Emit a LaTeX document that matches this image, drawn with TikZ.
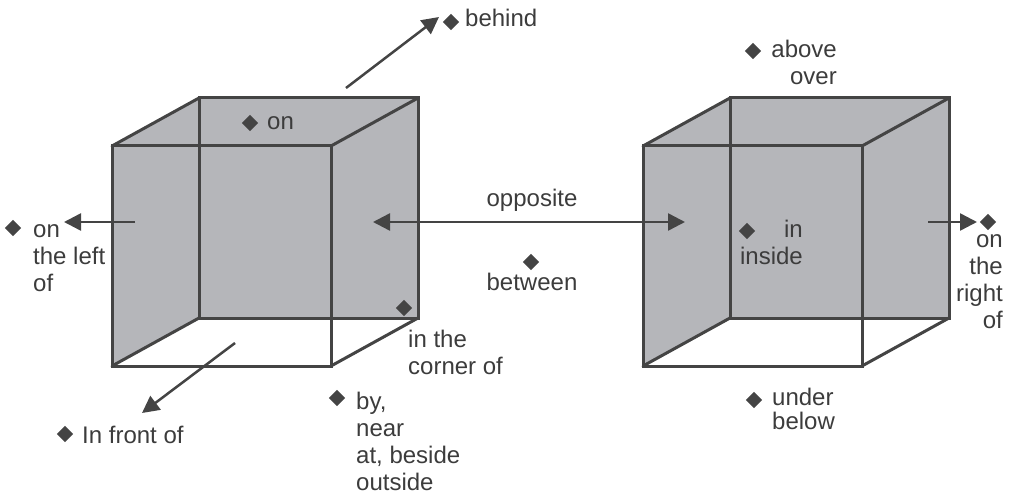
\documentclass[tikz,border=0pt]{standalone}
\usepackage{fontspec}
\setmainfont{Liberation Sans}
\usetikzlibrary{arrows.meta,shapes.geometric}
\definecolor{edgegray}{HTML}{444444}
\definecolor{boxgray}{HTML}{B5B6BA}
\definecolor{textgray}{HTML}{3C3C3C}
\tikzset{
  boxline/.style={draw=edgegray, line width=3pt, line cap=round},
  pointer/.style={draw=edgegray, line width=2.5pt, -{Triangle[length=17pt,width=17pt]}},
  bullet/.style={diamond, fill=edgegray, inner sep=0pt, minimum width=16.5pt, minimum height=16.5pt},
  word/.style={text=textgray, inner sep=0pt, font=\fontsize{24}{27}\selectfont},
}
\begin{document}
\begin{tikzpicture}[x=1pt, y=-1pt]
  \useasboundingbox (0,0) rectangle (1010,492);
  % two open boxes
  \foreach \c/\dx in {L/0, R/531}{
    \coordinate (\c-ftl) at (112+\dx,146);
    \coordinate (\c-ftr) at (331+\dx,146);
    \coordinate (\c-fbl) at (112+\dx,366);
    \coordinate (\c-fbr) at (331+\dx,366);
    \coordinate (\c-btl) at (199+\dx,98);
    \coordinate (\c-btr) at (418+\dx,98);
    \coordinate (\c-bbl) at (199+\dx,318);
    \coordinate (\c-bbr) at (418+\dx,318);
    \fill[boxgray] (\c-ftl) -- (\c-btl) -- (\c-btr) -- (\c-bbr) -- (\c-fbr) -- (\c-fbl) -- cycle;
    \fill[white] (\c-fbl) -- (\c-fbr) -- (\c-bbr) -- (\c-bbl) -- cycle;
    \draw[boxline] (\c-btl) rectangle (\c-bbr);
    \draw[boxline] (\c-ftl) rectangle (\c-fbr);
    \draw[boxline] (\c-ftl) -- (\c-btl) (\c-ftr) -- (\c-btr)
                   (\c-fbl) -- (\c-bbl) (\c-fbr) -- (\c-bbr);
  }

  % markers and words
  \node[bullet] (d-behind) at (451,22) {};
  \node[word, anchor=base west] (behind) at (465,27) {behind};
  \node[bullet] (d-on) at (250,123) {};
  \node[word, anchor=base west] (on) at (267,130) {on};
  \node[bullet] (d-left) at (13,228) {};
  \node[word, anchor=north west, align=left] (left) at (33,218) {\strut on\\the left\\of};
  \node[bullet] (d-corner) at (404,308) {};
  \node[word, anchor=north west, align=left] (corner) at (408,328) {\strut in the\\corner of};
  \node[bullet] (d-by) at (337,398) {};
  \node[word, anchor=north west, align=left] (by) at (356,390) {\strut by,\\near\\at, beside\\outside};
  \node[bullet] (d-front) at (65,434) {};
  \node[word, anchor=base west] (front) at (82,443) {In front of};
  \node[word, anchor=base] (opposite) at (532,207) {opposite};
  \node[bullet] (d-between) at (531,262) {};
  \node[word, anchor=base] (between) at (532,290) {between};
  \node[bullet] (d-above) at (753,51) {};
  \node[word, anchor=north east, align=right] (above) at (837,38) {\strut above\\over};
  \node[bullet] (d-in) at (747,231) {};
  \node[word, anchor=north east, align=right] (in) at (803,218) {\strut in\\inside};
  \node[bullet] (d-under) at (754,400) {};
  \node[word, anchor=north west, align=left] (under) at (772,386) {\strut under\\[-3pt]below};
  \node[bullet] (d-right) at (988,222) {};
  \node[word, anchor=north east, align=right] (right) at (1003,228) {\strut on\\the\\right\\of};

  % arrows
  \coordinate (a-left0) at (135,222);  \coordinate (a-left1) at (64,222);
  \coordinate (a-back0) at (346,88);   \coordinate (a-back1) at (439,17);
  \coordinate (a-front0) at (235,343); \coordinate (a-front1) at (142,413);
  \coordinate (a-opp0) at (373,222);   \coordinate (a-opp1) at (685,222);
  \coordinate (a-right0) at (928,222); \coordinate (a-right1) at (977,222);
  \draw[pointer] (a-left0) -- (a-left1);
  \draw[pointer] (a-back0) -- (a-back1);
  \draw[pointer] (a-front0) -- (a-front1);
  \draw[pointer, {Triangle[length=17pt,width=17pt]}-{Triangle[length=17pt,width=17pt]}] (a-opp0) -- (a-opp1);
  \draw[pointer] (a-right0) -- (a-right1);
\end{tikzpicture}
\end{document}
